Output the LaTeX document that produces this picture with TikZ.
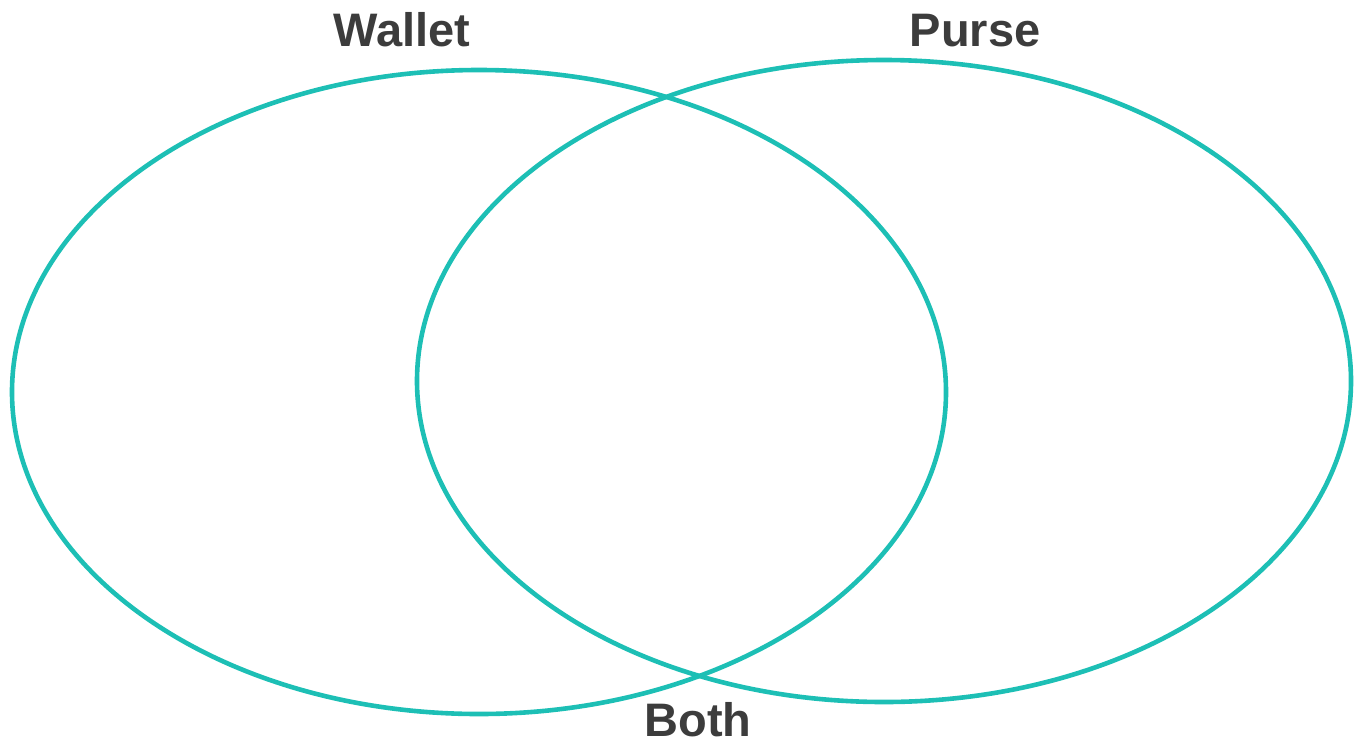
\documentclass[tikz,border=0pt]{standalone}
\usepackage{fontspec}
\setmainfont{Liberation Sans}
\definecolor{teal1}{HTML}{1DBFB5}
\definecolor{txt}{HTML}{3C3C3C}
\begin{document}
\begin{tikzpicture}[x=1pt,y=-1pt,
  ring/.style={draw=teal1,line width=4.6pt},
  lbl/.style={font=\bfseries\fontsize{47}{47}\selectfont,text=txt,anchor=base,inner sep=0pt,text depth=0pt}]
\useasboundingbox (0,0) rectangle (1356,742);
\draw[ring] (479,392) ellipse [x radius=467, y radius=322];
\draw[ring] (884,381) ellipse [x radius=467, y radius=321];
\node[lbl] (wallet) at (402,46) {Wallet};
\node[lbl] (purse) at (975,46) {Purse};
\node[lbl] (both) at (698,736) {Both};
\end{tikzpicture}
\end{document}
